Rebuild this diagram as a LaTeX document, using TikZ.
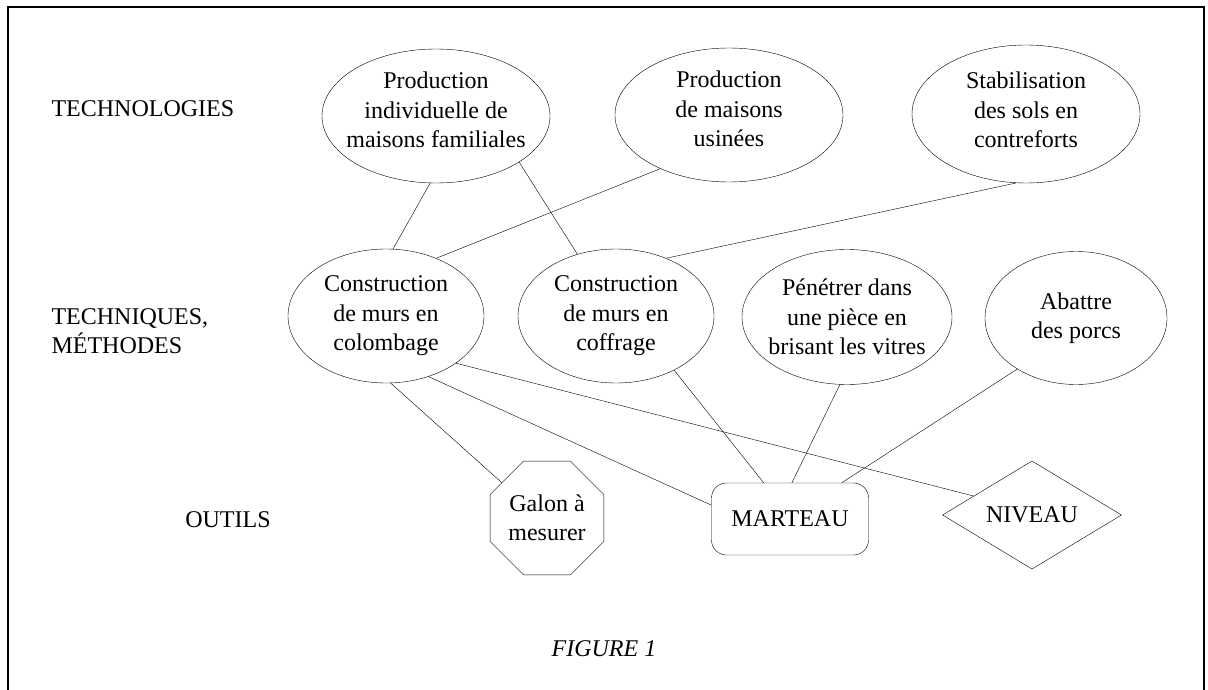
\documentclass[tikz,border=0pt]{standalone}
\usepackage{fontspec}
\setmainfont{Liberation Serif}
\usepackage{tikz}
\usetikzlibrary{shapes.geometric, positioning}
\tikzset{
every node/.style={font=\fontsize{24}{29.5}\selectfont}, % text size of the figure
line width=1.3pt, % thin lines everywhere
rowtitle/.style={anchor=west, align=left}, % titles of the three rows
techno/.style 2 args={draw, ellipse, inner sep=0pt, minimum width=#1, minimum height=#2}, % ovals, text goes in as a label
outil/.style={draw, inner sep=0pt, align=center}, % the tools in the bottom row
}

\begin{document}
\begin{tikzpicture}[x=1pt, y=-1pt]
  \useasboundingbox (0,0) rectangle (1208,690);
  \draw[line width=2pt] (8,690) -- (8,7) -- (1204,7) -- (1204,690);

  \node[rowtitle] (technologies) at (48,109) {TECHNOLOGIES};
  \node[rowtitle] (techniques) at (48,331) {TECHNIQUES,\\MÉTHODES};
  \node (outils) at (228,520) {OUTILS};

  \node[techno={228pt}{134pt}, label={[align=center, yshift=6pt]center:{Production\\individuelle de\\maisons familiales}}] (prodindiv) at (436,116) {};
  \node[techno={228pt}{134pt}, label={[align=center, yshift=6pt]center:{Production\\de maisons\\usinées}}] (produsine) at (729,115) {};
  \node[techno={228pt}{138pt}, label={[align=center, yshift=4pt]center:{Stabilisation\\des sols en\\contreforts}}] (stabil) at (1026,114) {};

  \node[techno={196pt}{134pt}, label={[align=center]center:{Construction\\de murs en\\colombage}}] (murcolomb) at (386,316) {};
  \node[techno={196pt}{134pt}, label={[align=center]center:{Construction\\de murs en\\coffrage}}] (murcoffr) at (616,316) {};
  \node[techno={210pt}{135pt}, label={[align=center]center:{Pénétrer dans\\une pièce en\\brisant les vitres}}] (penetrer) at (847,317) {};
  \node[techno={182pt}{133pt}, label={[align=center]center:{Abattre\\des porcs}}] (abattre) at (1076,318) {};

  \node[outil, regular polygon, regular polygon sides=8, minimum size=123pt] (galon) at (547,518) {Galon à\\mesurer};
  \node[outil, rounded corners=15pt, minimum width=157pt, minimum height=72pt] (marteau) at (790,519) {MARTEAU};
  \node[outil, diamond, minimum width=179pt, minimum height=80pt] (niveau) at (1032,515) {NIVEAU};

  \node (figure) at (604,649) {\itshape FIGURE 1};

  \draw (prodindiv.265) edge (murcolomb.84)
  (prodindiv.331) edge (murcoffr.122)
  (produsine.218) edge (murcolomb.49)
  (stabil.262) edge (murcoffr.49)
  (murcolomb.274) edge (galon.142)
  (murcolomb.305) edge (marteau.170)
  (murcolomb.326) edge (niveau.162)
  (murcoffr.317) edge (marteau.126)
  (penetrer.264) edge (marteau.87)
  (abattre.221) edge (marteau.35);
\end{tikzpicture}
\end{document}
